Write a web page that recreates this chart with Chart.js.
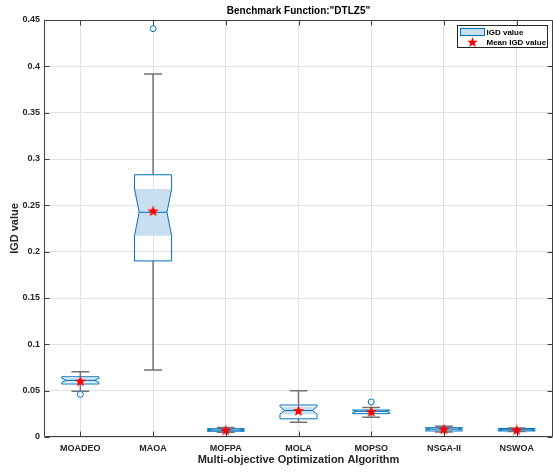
<!DOCTYPE html>
<html>
<head>
<meta charset="utf-8">
<script src="https://cdn.jsdelivr.net/npm/chart.js@4/dist/chart.umd.min.js"></script>
<style>
  html, body { margin: 0; padding: 0; background: #fff; }
  canvas { display: block; }
</style>
</head>
<body>
<canvas id="boxChart" width="553" height="472"></canvas>
<script>
const categories = ["MOADEO", "MAOA", "MOFPA", "MOLA", "MOPSO", "NSGA-II", "NSWOA"];
const whiskerLo = [0.0493, 0.0723, 0.0052, 0.0159, 0.0213, 0.0054, 0.0060];
const q1        = [0.0572, 0.1900, 0.0062, 0.0196, 0.0252, 0.0065, 0.0065];
const median    = [0.0611, 0.2425, 0.0075, 0.0286, 0.0277, 0.0085, 0.0078];
const q3        = [0.0650, 0.2830, 0.0090, 0.0345, 0.0291, 0.0100, 0.0092];
const whiskerHi = [0.0705, 0.3917, 0.0102, 0.0500, 0.0317, 0.0115, 0.0097];
const notchLo   = [0.0589, 0.2173, 0.0066, 0.0246, 0.0266, 0.0075, 0.0069];
const notchHi   = [0.0633, 0.2676, 0.0084, 0.0327, 0.0288, 0.0095, 0.0087];
const means     = [0.0604, 0.2440, 0.0074, 0.0285, 0.0275, 0.0085, 0.0076];
const outliers  = [0.0460, 0.4406, null, null, 0.0378, null, null];
const yTicks = [0, 0.05, 0.1, 0.15, 0.2, 0.25, 0.3, 0.35, 0.4, 0.45];
const yTickLabels = ["0", "0.05", "0.1", "0.15", "0.2", "0.25", "0.3", "0.35", "0.4", "0.45"];

const blue = "#0072BD";
const lightBlue = "#c9dff0";
const gray = "#737373";
const FONT = "'Liberation Sans', Arial, Helvetica, sans-serif";

function starPath(ctx, cx, cy, r) {
  ctx.beginPath();
  for (let k = 0; k < 10; k++) {
    const rad = k % 2 === 0 ? r : r * 0.42;
    const a = -Math.PI / 2 + k * Math.PI / 5;
    const px = cx + rad * Math.cos(a), py = cy + rad * Math.sin(a);
    if (k === 0) ctx.moveTo(px, py); else ctx.lineTo(px, py);
  }
  ctx.closePath();
}

const star = document.createElement("canvas");
star.width = 13; star.height = 13;
(function () {
  const c = star.getContext("2d");
  starPath(c, 6.5, 7, 6);
  c.fillStyle = "#ff0000";
  c.fill();
})();

const boxPlugin = {
  id: "boxes",
  beforeDatasetsDraw(chart) {
    const ctx = chart.ctx, xs = chart.scales.x, ys = chart.scales.y;
    const step = xs.getPixelForValue(1) - xs.getPixelForValue(0);
    const hw = step * 0.255, nw = hw * 0.75, cw = hw * 0.48;
    ctx.save();
    categories.forEach((c, i) => {
      const x = xs.getPixelForValue(i);
      const yq1 = ys.getPixelForValue(q1[i]), yq3 = ys.getPixelForValue(q3[i]);
      const ym = ys.getPixelForValue(median[i]);
      const ynl = ys.getPixelForValue(notchLo[i]), ynh = ys.getPixelForValue(notchHi[i]);
      // notch fill
      ctx.beginPath();
      ctx.moveTo(x - hw, ynh); ctx.lineTo(x + hw, ynh); ctx.lineTo(x + nw, ym);
      ctx.lineTo(x + hw, ynl); ctx.lineTo(x - hw, ynl); ctx.lineTo(x - nw, ym);
      ctx.closePath();
      ctx.fillStyle = lightBlue;
      ctx.fill();
      // outline
      ctx.beginPath();
      ctx.moveTo(x - hw, yq3); ctx.lineTo(x + hw, yq3); ctx.lineTo(x + hw, ynh);
      ctx.lineTo(x + nw, ym); ctx.lineTo(x + hw, ynl); ctx.lineTo(x + hw, yq1);
      ctx.lineTo(x - hw, yq1); ctx.lineTo(x - hw, ynl); ctx.lineTo(x - nw, ym);
      ctx.lineTo(x - hw, ynh);
      ctx.closePath();
      ctx.strokeStyle = blue;
      ctx.lineWidth = 1;
      ctx.stroke();
      ctx.beginPath();
      ctx.moveTo(x - nw, ym); ctx.lineTo(x + nw, ym);
      ctx.stroke();
      // whiskers
      const ywl = ys.getPixelForValue(whiskerLo[i]), ywh = ys.getPixelForValue(whiskerHi[i]);
      ctx.strokeStyle = gray;
      ctx.lineWidth = 1.5;
      ctx.beginPath();
      ctx.moveTo(x, yq3); ctx.lineTo(x, ywh);
      ctx.moveTo(x, yq1); ctx.lineTo(x, ywl);
      ctx.moveTo(x - cw, ywh); ctx.lineTo(x + cw, ywh);
      ctx.moveTo(x - cw, ywl); ctx.lineTo(x + cw, ywl);
      ctx.stroke();
    });
    ctx.restore();
  },
  afterDraw(chart) {
    const ctx = chart.ctx, a = chart.chartArea, xs = chart.scales.x, ys = chart.scales.y;
    ctx.save();
    // frame with inward ticks
    ctx.strokeStyle = "#404040";
    ctx.lineWidth = 1;
    const L = Math.round(a.left) + 0.5, R = Math.round(a.right) - 0.5;
    const T = Math.round(a.top) + 0.5, B = Math.round(a.bottom) - 0.5;
    ctx.beginPath();
    ctx.rect(L, T, R - L, B - T);
    categories.forEach((c, i) => {
      const x = Math.round(xs.getPixelForValue(i)) + 0.5;
      ctx.moveTo(x, B); ctx.lineTo(x, B - 5);
      ctx.moveTo(x, T); ctx.lineTo(x, T + 5);
    });
    yTicks.forEach(v => {
      const y = Math.round(ys.getPixelForValue(v)) + 0.5;
      ctx.moveTo(L, y); ctx.lineTo(L + 5, y);
      ctx.moveTo(R, y); ctx.lineTo(R - 5, y);
    });
    ctx.stroke();
    // legend
    const lw = 90, lh = 22;
    const lx = Math.round(a.right - 6 - lw) + 0.5, ly = Math.round(a.top + 5) + 0.5;
    ctx.fillStyle = "#fff";
    ctx.fillRect(lx, ly, lw, lh);
    ctx.strokeStyle = "#262626";
    ctx.strokeRect(lx, ly, lw, lh);
    ctx.fillStyle = lightBlue;
    ctx.fillRect(lx + 3, ly + 3, 24, 7);
    ctx.strokeStyle = blue;
    ctx.strokeRect(lx + 3, ly + 3, 24, 7);
    starPath(ctx, lx + 15, ly + 17, 5.5);
    ctx.fillStyle = "#ff0000";
    ctx.fill();
    ctx.fillStyle = "#000";
    ctx.font = "bold 8px " + FONT;
    ctx.textBaseline = "middle";
    ctx.fillText("IGD value", lx + 29, ly + 7);
    ctx.fillText("Mean IGD value", lx + 29, ly + 17);
    ctx.restore();
  }
};

new Chart(document.getElementById("boxChart"), {
  type: "line",
  data: {
    labels: categories,
    datasets: [
      {
        label: "Mean IGD value",
        data: means,
        showLine: false,
        pointStyle: star,
        pointRadius: 6,
        borderColor: "#ff0000",
        backgroundColor: "#ff0000"
      },
      {
        label: "Outliers",
        data: outliers,
        showLine: false,
        pointStyle: "circle",
        pointRadius: 3,
        borderWidth: 1,
        borderColor: blue,
        backgroundColor: "#fff"
      }
    ]
  },
  options: {
    responsive: false,
    animation: false,
    layout: { padding: 0, autoPadding: false },
    plugins: {
      legend: { display: false },
      tooltip: { enabled: false },
      title: {
        display: true,
        fullSize: false,
        text: "Benchmark Function:\"DTLZ5\"",
        color: "#000",
        font: { family: FONT, size: 10, weight: "bold", lineHeight: 1.2 },
        padding: { top: 5, bottom: 3 }
      }
    },
    scales: {
      x: {
        type: "category",
        offset: true,
        grid: { display: true, color: "#e3e3e3", drawTicks: false, offset: false },
        border: { display: false },
        ticks: { color: "#262626", padding: 6, autoSkip: false, maxRotation: 0, font: { family: FONT, size: 9, weight: "bold" } },
        title: {
          display: true,
          text: "Multi-objective Optimization Algorithm",
          color: "#262626",
          font: { family: FONT, size: 11, weight: "bold", lineHeight: 1.2 },
          padding: { top: 0, bottom: 5 }
        },
        afterFit: s => { s.height = 35; s.paddingLeft = 0; s.paddingRight = 0; }
      },
      y: {
        min: 0,
        max: 0.45,
        afterBuildTicks: s => { s.ticks = yTicks.map(v => ({ value: v })); },
        grid: { color: "#e3e3e3", drawTicks: false },
        border: { display: false },
        ticks: {
          color: "#262626",
          padding: 4,
          autoSkip: false,
          font: { family: FONT, size: 9, weight: "bold" },
          callback: (v, i) => yTickLabels[i]
        },
        title: {
          display: true,
          text: "IGD value",
          color: "#262626",
          font: { family: FONT, size: 11, weight: "bold", lineHeight: 1.2 },
          padding: { top: 8, bottom: 0 }
        },
        afterFit: s => { s.width = 44; }
      }
    }
  },
  plugins: [boxPlugin]
});
</script>
</body>
</html>
